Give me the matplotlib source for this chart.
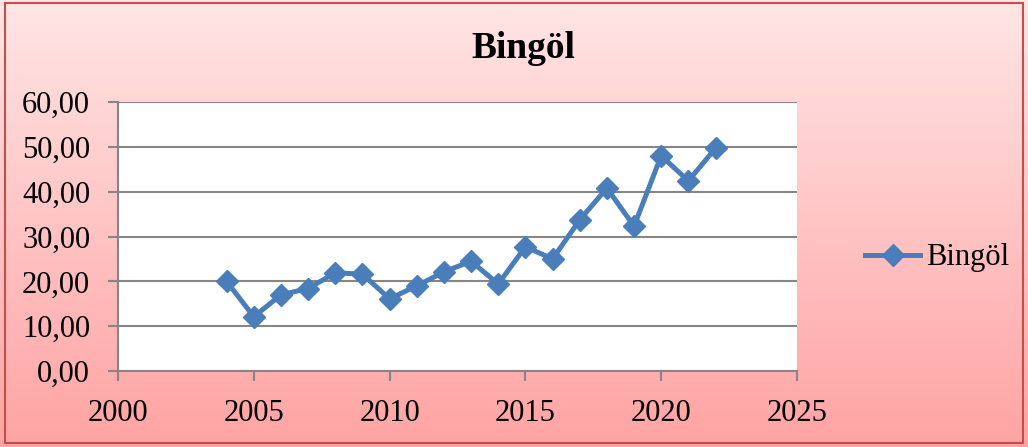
import numpy as np
import matplotlib
matplotlib.use("Agg")
import matplotlib.pyplot as plt
from matplotlib.patches import Rectangle

# data
years = [2004, 2005, 2006, 2007, 2008, 2009, 2010, 2011, 2012, 2013,
         2014, 2015, 2016, 2017, 2018, 2019, 2020, 2021, 2022]
values = [20.0, 12.1, 17.0, 18.4, 21.9, 21.6, 16.1, 19.0, 22.1, 24.5,
          19.4, 27.7, 25.0, 33.7, 40.8, 32.3, 48.0, 42.4, 49.7]
series_name = "Bingöl"
x_ticks = [2000, 2005, 2010, 2015, 2020, 2025]
y_ticks = [0, 10, 20, 30, 40, 50, 60]

plt.rcParams['font.family'] = ['Liberation Serif', 'DejaVu Serif']
line_color = "#4A7EBB"

fig = plt.figure(figsize=(10.28, 4.47), dpi=100)

# pink gradient background
bg = fig.add_axes([0, 0, 1, 1], zorder=-10)
grad = np.linspace(0, 1, 256).reshape(-1, 1)
top = np.array([1.0, 0.90, 0.90])
bottom = np.array([1.0, 0.64, 0.64])
img = top + (bottom - top) * grad[:, :, None]
bg.imshow(img, aspect="auto", extent=[0, 1, 0, 1], origin="upper")
bg.set_xlim(0, 1)
bg.set_ylim(0, 1)
bg.axis("off")
bg.add_patch(Rectangle((5 / 1028, 4 / 447), 1018 / 1028, 440 / 447,
                       fill=False, edgecolor="#C0504D", linewidth=1.5,
                       transform=bg.transAxes))

ax = fig.add_axes([118 / 1028, 1 - 371 / 447, 679 / 1028, 269 / 447])
ax.set_facecolor("white")
ax.plot(years, values, color=line_color, linewidth=3.6, marker="D",
        markersize=11, markerfacecolor=line_color, markeredgecolor=line_color,
        label=series_name)

ax.set_xlim(2000, 2025)
ax.set_ylim(0, 60)
ax.set_xticks(x_ticks)
ax.set_yticks(y_ticks)
ax.set_yticklabels([f"{v:.2f}".replace(".", ",") for v in y_ticks])
ax.grid(axis="y", color="#868686", linewidth=1.5)
ax.set_axisbelow(True)
for s in ["top", "right"]:
    ax.spines[s].set_visible(False)
for s in ["left", "bottom"]:
    ax.spines[s].set_color("#868686")
    ax.spines[s].set_linewidth(1.5)
ax.tick_params(axis="both", direction="out", length=7, width=1.5,
               color="#868686", labelsize=22)
ax.tick_params(axis="y", pad=13)
ax.tick_params(axis="x", pad=13)

fig.text(523 / 1028, 1 - 48 / 447, "Bingöl", ha="center", va="center",
         fontsize=27, fontweight="bold")

leg = fig.legend(loc="center left", bbox_to_anchor=(853 / 1028, 1 - 258 / 447),
                 frameon=False, fontsize=22, handlelength=1.8,
                 handletextpad=0.2, borderaxespad=0)

fig.savefig("out.png", dpi=100)
